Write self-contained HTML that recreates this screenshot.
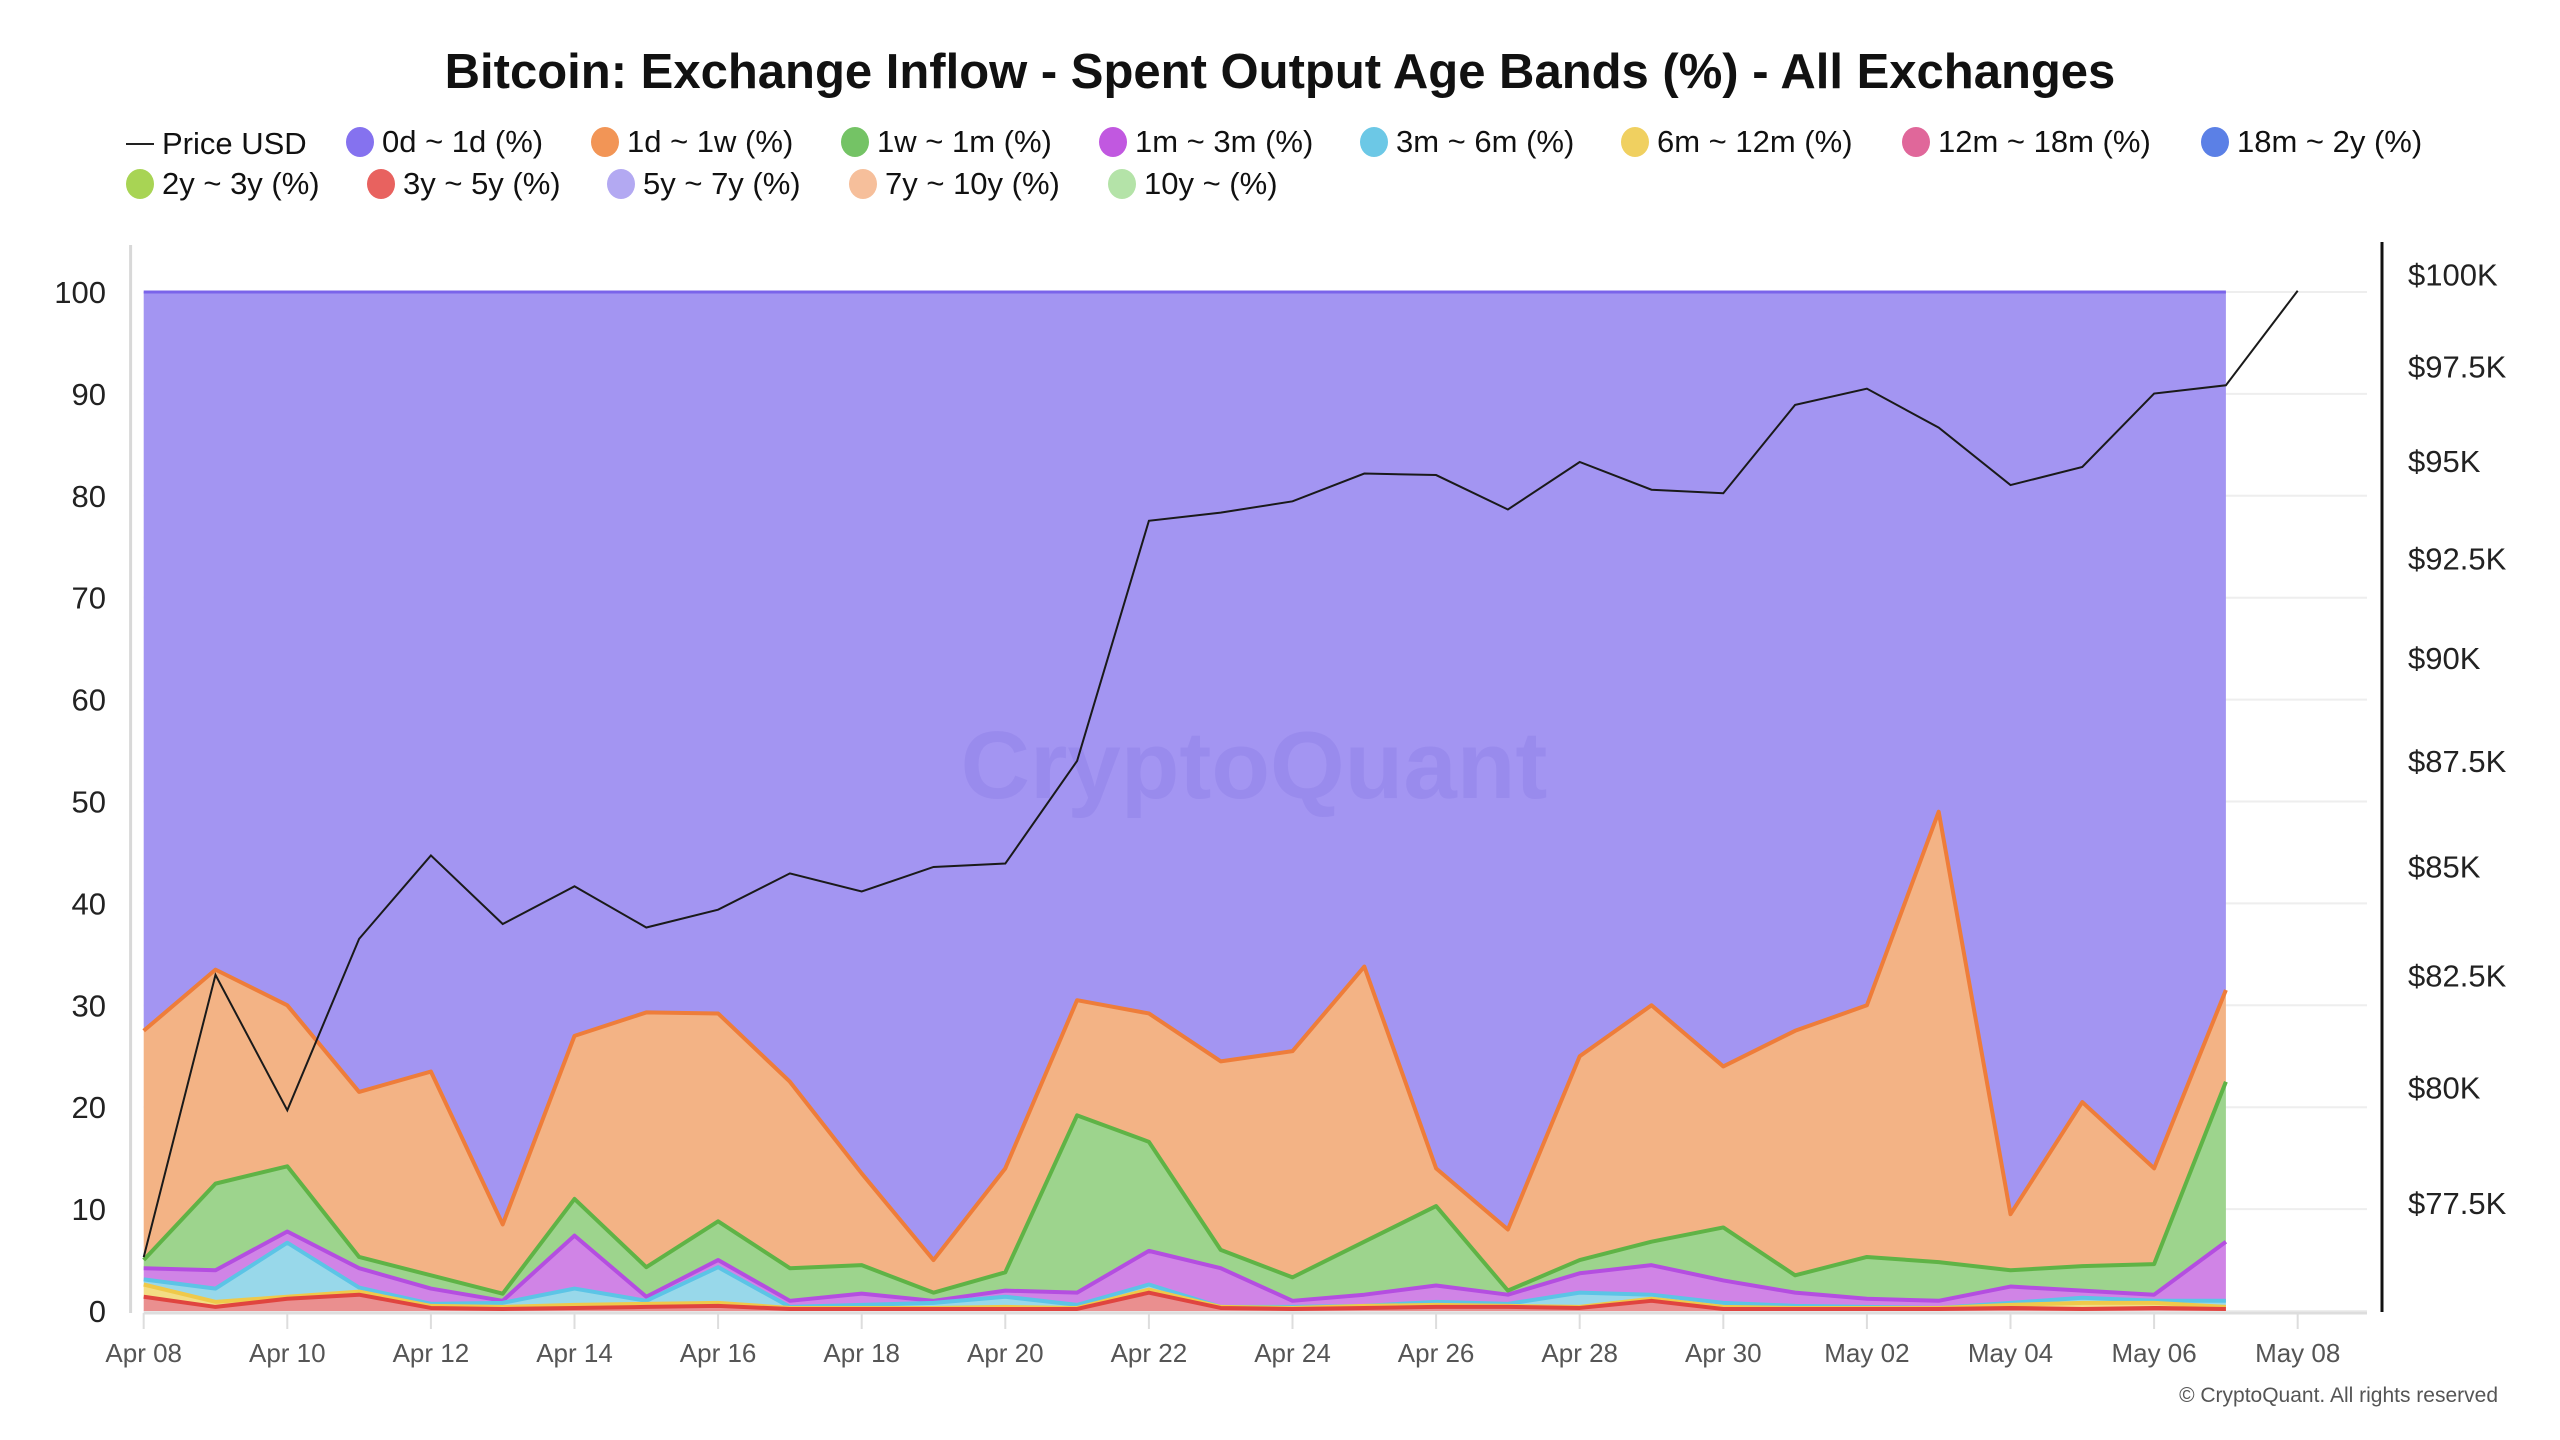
<!DOCTYPE html>
<html><head><meta charset="utf-8">
<style>
html,body{margin:0;padding:0;background:#fff;width:2560px;height:1440px;overflow:hidden;font-family:"Liberation Sans",sans-serif;}
#title{position:absolute;left:0;width:2560px;top:44px;text-align:center;font-size:49px;font-weight:bold;color:#111;}
.leg{position:absolute;font-size:31px;color:#111;white-space:nowrap;display:flex;align-items:center;}
.dot{display:inline-block;width:28px;height:30px;border-radius:50%;margin-right:8px;}
#copy{position:absolute;right:62px;top:1384px;font-size:21px;color:#555;}
</style></head><body>
<div id="title">Bitcoin: Exchange Inflow - Spent Output Age Bands (%) - All Exchanges</div>
<div class="leg" style="left:126px;top:126px"><span style="display:inline-block;width:28px;height:2px;background:#222;margin-right:8px"></span>Price USD</div>
<div class="leg" style="left:346px;top:124px"><span class="dot" style="background:#8572ef"></span>0d ~ 1d (%)</div>
<div class="leg" style="left:591px;top:124px"><span class="dot" style="background:#f29556"></span>1d ~ 1w (%)</div>
<div class="leg" style="left:841px;top:124px"><span class="dot" style="background:#74c365"></span>1w ~ 1m (%)</div>
<div class="leg" style="left:1099px;top:124px"><span class="dot" style="background:#c158e0"></span>1m ~ 3m (%)</div>
<div class="leg" style="left:1360px;top:124px"><span class="dot" style="background:#6cc8e6"></span>3m ~ 6m (%)</div>
<div class="leg" style="left:1621px;top:124px"><span class="dot" style="background:#f0d060"></span>6m ~ 12m (%)</div>
<div class="leg" style="left:1902px;top:124px"><span class="dot" style="background:#e0679a"></span>12m ~ 18m (%)</div>
<div class="leg" style="left:2201px;top:124px"><span class="dot" style="background:#5b80e6"></span>18m ~ 2y (%)</div>
<div class="leg" style="left:126px;top:166px"><span class="dot" style="background:#a8d454"></span>2y ~ 3y (%)</div>
<div class="leg" style="left:367px;top:166px"><span class="dot" style="background:#e8625f"></span>3y ~ 5y (%)</div>
<div class="leg" style="left:607px;top:166px"><span class="dot" style="background:#b3a9f2"></span>5y ~ 7y (%)</div>
<div class="leg" style="left:849px;top:166px"><span class="dot" style="background:#f6bf9b"></span>7y ~ 10y (%)</div>
<div class="leg" style="left:1108px;top:166px"><span class="dot" style="background:#b4e3a8"></span>10y ~ (%)</div>
<svg id="chart" width="2560" height="1440" style="position:absolute;left:0;top:0"></svg>
<div id="copy">© CryptoQuant. All rights reserved</div>
<script>
const dates=["Apr 08","Apr 10","Apr 12","Apr 14","Apr 16","Apr 18","Apr 20","Apr 22","Apr 24","Apr 26","Apr 28","Apr 30","May 02","May 04","May 06","May 08"];
const leftTicks=[0,10,20,30,40,50,60,70,80,90,100];
const rightTicks=[77500,80000,82500,85000,87500,90000,92500,95000,97500,100000];
const rightTickLabels=["$77.5K","$80K","$82.5K","$85K","$87.5K","$90K","$92.5K","$95K","$97.5K","$100K"];
const band3y5y=[1.4,0.4,1.2,1.6,0.3,0.2,0.3,0.4,0.5,0.2,0.2,0.2,0.2,0.2,1.8,0.3,0.2,0.3,0.4,0.4,0.3,1.0,0.2,0.2,0.2,0.2,0.3,0.2,0.3,0.2];
const band6m12m=[1.2,0.5,0.2,0.3,0.2,0.2,0.3,0.3,0.3,0.1,0.1,0.1,0.2,0.1,0.3,0.1,0.1,0.2,0.2,0.1,0.1,0.2,0.2,0.1,0.1,0.1,0.3,0.6,0.5,0.2];
const band3m6m=[0.5,1.3,5.3,0.4,0.2,0.4,1.6,0.3,3.5,0.1,0.3,0.5,1.0,0.3,0.5,0,0.1,0,0.3,0.2,1.4,0.4,0.4,0.2,0.1,0,0.2,0.5,0.2,0.6];
const band1m3m=[1.1,1.8,1.1,1.9,1.5,0.2,5.2,0.4,0.7,0.6,1.1,0.2,0.6,1.2,3.3,3.8,0.6,1.1,1.6,0.9,1.9,2.9,2.2,1.3,0.8,0.7,1.6,0.7,0.6,5.8];
const band1w1m=[0.8,8.5,6.4,1.1,1.3,0.7,3.6,2.9,3.8,3.2,2.8,0.8,1.8,17.4,10.7,1.8,2.3,5.2,7.8,0.4,1.3,2.3,5.2,1.7,4.1,3.8,1.6,2.4,3.0,15.7];
const band1d1w=[22.5,21,15.8,16.2,20,6.8,16,25,20.4,18.3,9,3.2,10.2,11.3,12.6,18.5,22.2,27,3.7,6,20,23.2,15.8,24,24.7,44.2,5.5,16.1,9.4,9];
const priceUSD=[76360,82510,79500,83330,85260,83670,84540,83590,84000,84840,84420,84990,85070,87500,93460,93670,93960,94680,94640,93750,94980,94260,94170,96480,96910,95880,94380,94850,96780,97000,99550];

const svg=document.getElementById('chart');
const NS='http://www.w3.org/2000/svg';
const X0=143.7,DX=71.8,Y0=1311,Y100=292,RX=2382;
const xS=i=>X0+i*DX;
const yS=v=>Y0-(Y0-Y100)*v/100;
const yP=p=>168*1.6327+2232*1.6327*Math.log(100000/p);
function mk(tag,attrs){const e=document.createElementNS(NS,tag);for(const k in attrs)e.setAttribute(k,attrs[k]);svg.appendChild(e);return e;}
for(const t of leftTicks){
  const g=mk('line',{x1:X0,x2:2367,y1:yS(t),y2:yS(t),stroke:'#eeeeee','stroke-width':2});
  
  
  const l=mk('text',{x:106,y:yS(t)+11,'text-anchor':'end','font-size':31,fill:'#222'});
  l.textContent=t;
  
  
}
const n=band1d1w.length;
const bands=[
 {d:band3y5y,fill:'#ea8f8f',stroke:'#e0443f',name:'area-3y-5y'},
 {d:band6m12m,fill:'#f3dd84',stroke:'#efc94a',name:'area-6m-12m'},
 {d:band3m6m,fill:'#98d8ea',stroke:'#5cc4e6',name:'area-3m-6m'},
 {d:band1m3m,fill:'#d084e6',stroke:'#b44ee0',name:'area-1m-3m'},
 {d:band1w1m,fill:'#9dd48d',stroke:'#5fb346',name:'area-1w-1m'},
 {d:band1d1w,fill:'#f3b385',stroke:'#ee7d3a',name:'area-1d-1w'}
];
let base=new Array(n).fill(0);
const tops=[];
for(const b of bands){const top=base.map((v,i)=>v+b.d[i]);tops.push({b,base:base.slice(),top});base=top;}
{
  let d='M'+xS(0)+','+yS(100);
  for(let i=1;i<n;i++)d+=' L'+xS(i)+','+yS(100);
  for(let i=n-1;i>=0;i--)d+=' L'+xS(i)+','+yS(base[i]);
  const a=mk('path',{d:d+'Z',fill:'#a395f2'});
  
  
  const ln=mk('line',{x1:xS(0),x2:xS(n-1),y1:yS(100),y2:yS(100),stroke:'#7a64ea','stroke-width':3});
  
  
}
for(const t of tops.slice().reverse()){
  let d='M'+xS(0)+','+yS(t.top[0]);
  for(let i=1;i<n;i++)d+=' L'+xS(i)+','+yS(t.top[i]);
  let line=d;
  for(let i=n-1;i>=0;i--)d+=' L'+xS(i)+','+yS(t.base[i]);
  const a=mk('path',{d:d+'Z',fill:t.b.fill});
  
  
  const l=mk('path',{d:line,fill:'none',stroke:t.b.stroke,'stroke-width':4,'stroke-linejoin':'round'});
  
  
}
const wm=mk('text',{x:1254,y:798,'text-anchor':'middle','font-size':96,'font-weight':'bold',fill:'#8f7fe6','fill-opacity':0.45});
wm.textContent='CryptoQuant';


{
  let d='';
  priceUSD.forEach((p,i)=>{d+=(i?' L':'M')+xS(i)+','+yP(p);});
  const l=mk('path',{d,fill:'none',stroke:'#1a1a1a','stroke-width':2});
  
  
}
const la=mk('line',{x1:130.6,x2:130.6,y1:245,y2:1313,stroke:'#d8d8d8','stroke-width':3});


const ba=mk('line',{x1:X0,x2:2367,y1:Y0+2,y2:Y0+2,stroke:'#dddddd','stroke-width':3});


const ra=mk('line',{x1:RX,x2:RX,y1:242,y2:1312,stroke:'#111','stroke-width':3});


rightTicks.forEach((p,i)=>{
  const t=mk('text',{x:2408,y:yP(p)+11,'font-size':31,fill:'#222'});
  t.textContent=rightTickLabels[i];
  
  
});
dates.forEach((s,i)=>{
  const x=xS(i*2);
  const tk=mk('line',{x1:x,x2:x,y1:Y0+2,y2:Y0+18,stroke:'#ddd','stroke-width':2});
  
  
  const t=mk('text',{x:x,y:1362,'text-anchor':'middle','font-size':26,fill:'#555'});
  t.textContent=s;
  
  
});
</script>
</body></html>
